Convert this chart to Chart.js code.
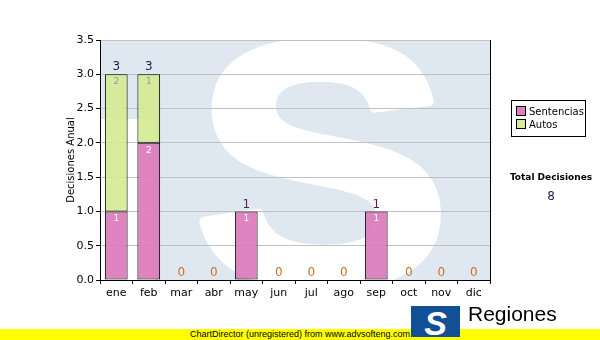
<!DOCTYPE html>
<html>
<head>
<meta charset="utf-8">
<script src="https://cdn.jsdelivr.net/npm/chart.js@4/dist/chart.umd.min.js"></script>
<style>
  body { margin: 0; background: #fff; }
  .wrap { position: relative; width: 600px; height: 340px; overflow: hidden; font-family: "DejaVu Sans", sans-serif; }
  canvas { position: absolute; left: 0; top: 0; }
  .legend { position: absolute; left: 511px; top: 100px; width: 73px; height: 35px; border: 1px solid #000; background: #fff; font-size: 10px; }
  .legend div { position: absolute; left: 4px; height: 12px; line-height: 12px; white-space: nowrap; }
  .legend span { display: inline-block; width: 8px; height: 8px; border: 1px solid #000; margin-right: 3px; vertical-align: -1px; }
  .total { position: absolute; left: 501px; width: 100px; text-align: center; }
  .footer { position: absolute; left: 0; top: 329px; width: 600px; height: 11px; background: #ffff00; font: 9px "Liberation Sans", Arial, sans-serif; line-height: 11px; text-align: center; color: #000; }
  .logo { position: absolute; left: 411px; top: 306px; width: 49px; height: 31px; background: #134f94; color: #fff; font: bold italic 34px "Liberation Sans", Arial, sans-serif; line-height: 34px; text-align: center; overflow: hidden; }
  .reg { position: absolute; left: 468px; top: 302px; font: 21px "Liberation Sans", Arial, sans-serif; color: #000; }
  .trib { position: absolute; left: 468px; top: 328px; font: 10px "Liberation Sans", Arial, sans-serif; color: #000; }
</style>
</head>
<body>
<div class="wrap">
  <canvas id="chart" width="600" height="340"></canvas>
  <div class="legend">
    <div style="top:5px"><span style="background:#de80c0"></span>Sentencias</div>
    <div style="top:18px"><span style="background:#d6ec96"></span>Autos</div>
  </div>
  <div class="total" style="top:172px; font-size:9px; font-weight:bold;">Total Decisiones</div>
  <div class="total" style="top:189px; font-size:12px; color:#222244;" id="total"></div>
  <div class="trib">Tribunal Supremo de Justicia</div>
  <div class="footer">ChartDirector (unregistered) from www.advsofteng.com</div>
  <div class="logo">S</div>
  <div class="reg">Regiones</div>
</div>
<script>
const meses = ['ene', 'feb', 'mar', 'abr', 'may', 'jun', 'jul', 'ago', 'sep', 'oct', 'nov', 'dic']
const sentencias = [1, 2, 0, 0, 1, 0, 0, 0, 1, 0, 0, 0]
const autos = [2, 1, 0, 0, 0, 0, 0, 0, 0, 0, 0, 0]
const yMax = 3.5
const yStep = 0.5

const totales = meses.map((m, i) => sentencias[i] + autos[i])
document.querySelector('#total').textContent = totales.reduce((a, b) => a + b, 0)

// light blue "S" logo behind the plot
const watermark = {
    id: 'watermark',
    beforeDraw(chart) {
        const { ctx, chartArea: a } = chart
        ctx.save()
        ctx.beginPath()
        ctx.rect(a.left, a.top, a.right - a.left, a.bottom - a.top)
        ctx.clip()
        ctx.fillStyle = '#dfe8f1'
        ctx.fillRect(a.left, a.top, a.right - a.left, a.bottom - a.top)
        ctx.fillStyle = '#ffffff'
        ctx.fillRect(a.left, a.top + 79, 55, a.bottom - a.top)
        ctx.translate(322, 283)
        ctx.scale(1.12, 1)
        ctx.font = 'bold 345px "Liberation Sans"'
        ctx.textAlign = 'center'
        ctx.textBaseline = 'alphabetic'
        ctx.strokeStyle = '#ffffff'
        ctx.lineWidth = 9
        ctx.lineJoin = 'round'
        ctx.strokeText('S', 0, 0)
        ctx.fillText('S', 0, 0)
        ctx.restore()
    },
    afterDraw(chart) {
        const { ctx, chartArea: a } = chart
        ctx.save()
        ctx.strokeStyle = '#000'
        ctx.lineWidth = 1
        ctx.beginPath()
        ctx.moveTo(a.right + 0.5, a.top)
        ctx.lineTo(a.right + 0.5, a.bottom)
        ctx.stroke()
        ctx.restore()
    }
}

const etiquetas = {
    id: 'etiquetas',
    afterDatasetsDraw(chart) {
        const { ctx } = chart
        const y = chart.scales.y
        ctx.save()
        ctx.textAlign = 'center'
        // values inside segments
        ctx.font = '9px "DejaVu Sans"'
        ctx.textBaseline = 'top'
        chart.data.datasets.forEach((ds, d) => {
            chart.getDatasetMeta(d).data.forEach((bar, i) => {
                if (!ds.data[i]) return
                ctx.fillStyle = d === 0 ? '#ffffff' : '#9a9a9a'
                ctx.fillText(ds.data[i], bar.x, bar.y + 3)
            })
        })
        // totals above bars
        ctx.font = '12px "DejaVu Sans"'
        ctx.textBaseline = 'bottom'
        const meta = chart.getDatasetMeta(0)
        totales.forEach((t, i) => {
            ctx.fillStyle = t === 0 ? '#c0742a' : (t === 1 ? '#5c1f55' : '#1b1b45')
            ctx.fillText(t, meta.data[i].x, y.getPixelForValue(t) - 1)
        })
        ctx.restore()
    }
}

const chart = new Chart(document.querySelector('#chart'), {
    type: 'bar',
    data: {
        labels: meses,
        datasets: [{
            label: 'Sentencias',
            data: sentencias,
            backgroundColor: 'rgba(218, 122, 188, 0.92)',
            borderColor: '#000',
            borderWidth: 1,
            borderSkipped: false
        }, {
            label: 'Autos',
            data: autos,
            backgroundColor: 'rgba(212, 235, 145, 0.9)',
            borderColor: '#000',
            borderWidth: 1,
            borderSkipped: false
        }]
    },
    options: {
        responsive: false,
        animation: false,
        layout: { padding: { left: 65, right: 110, top: 40, bottom: 40 } },
        datasets: { bar: { categoryPercentage: 1, barPercentage: 0.7 } },
        plugins: { legend: { display: false }, tooltip: { enabled: false } },
        scales: {
            x: {
                stacked: true,
                afterFit: s => { s.height = 20 },
                grid: { display: true, drawOnChartArea: false, tickLength: 4, tickColor: '#000' },
                border: { color: '#000', width: 1 },
                ticks: { color: '#000', padding: 3, font: { family: 'DejaVu Sans', size: 11 } }
            },
            y: {
                stacked: true,
                min: 0,
                max: yMax,
                afterFit: s => { s.width = 35 },
                grid: { color: '#c0c0c0', tickLength: 4, tickColor: '#000' },
                border: { color: '#000', width: 1 },
                ticks: {
                    stepSize: yStep,
                    color: '#000',
                    padding: 2,
                    font: { family: 'DejaVu Sans', size: 11 },
                    callback: v => v.toFixed(1)
                },
                title: {
                    display: true,
                    text: 'Decisiones Anual',
                    color: '#000',
                    padding: 0,
                    font: { family: 'DejaVu Sans', size: 10 }
                }
            }
        }
    },
    plugins: [watermark, etiquetas]
})
</script>
</body>
</html>
